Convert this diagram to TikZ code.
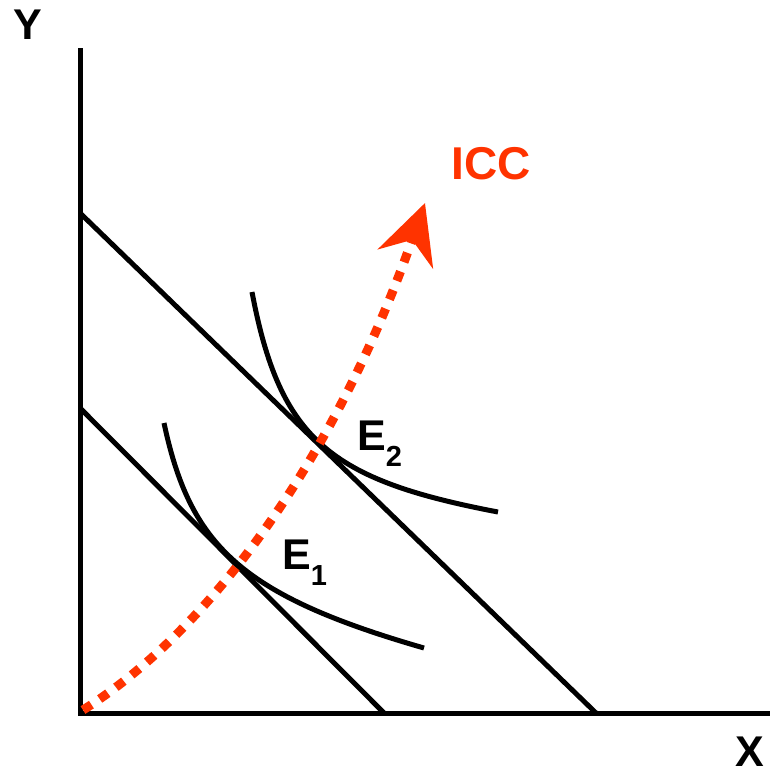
\documentclass[tikz,border=0pt]{standalone}
\usepackage{fontspec}
\setmainfont{Liberation Sans}
\usetikzlibrary{arrows.meta}
\definecolor{iccred}{RGB}{255,51,0}
\tikzset{
  blk/.style={line width=5pt, black, line cap=butt},
  icc/.style={line width=9pt, iccred, dash pattern=on 10pt off 10pt},
  lbl/.style={font=\bfseries\fontsize{43pt}{43pt}\selectfont, inner sep=0pt},
}
\begin{document}
\begin{tikzpicture}[x=1pt,y=-1pt]
\useasboundingbox (0,0) rectangle (770,772);
% coordinates
\coordinate (O) at (80,713);
\coordinate (ytop) at (80,48);
\coordinate (xend) at (770,713);
\coordinate (b2y) at (80,213);
\coordinate (b2x) at (596,713);
\coordinate (b1y) at (80,408);
\coordinate (b1x) at (384,713);
\coordinate (i2s) at (252,292);
\coordinate (i2e) at (498,512);
\coordinate (i1s) at (164,423);
\coordinate (i1e) at (424,648);
\coordinate (cs) at (83,710);
\coordinate (ce) at (425,203);
% axes
\draw[blk] (ytop) -- (O) -- (xend);
% budget lines
\draw[blk] (b2y) -- (b2x);
\draw[blk] (b1y) -- (b1x);
% indifference curves
\draw[blk] (i2s) .. controls (280,440) and (330,480) .. (i2e);
\draw[blk] (i1s) .. controls (190,545) and (240,595) .. (i1e);
% ICC
\draw[icc, -{Stealth[length=59pt,width=58pt,inset=20pt]}] (cs) .. controls (210,630) and (335,460) .. (ce);
% labels
\node[lbl, anchor=base] (Y) at (28,39) {Y};
\node[lbl, anchor=base] (X) at (750,766) {X};
\node[lbl, anchor=base, text=iccred, font=\bfseries\fontsize{46pt}{46pt}\selectfont] (ICC) at (491,179) {ICC};
\node[lbl, anchor=base west] (E2) at (357,450) {E{\fontsize{29pt}{29pt}\selectfont\raisebox{-16pt}{2}}};
\node[lbl, anchor=base west] (E1) at (282,569) {E{\fontsize{29pt}{29pt}\selectfont\raisebox{-16pt}{1}}};
\end{tikzpicture}
\end{document}
